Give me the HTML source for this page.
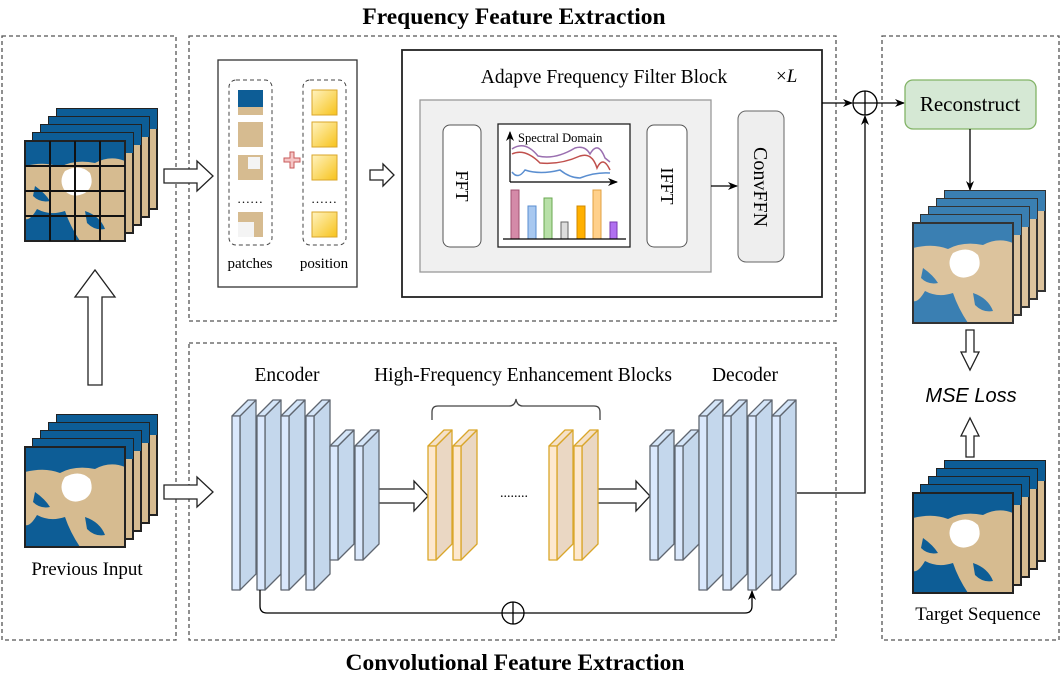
<!DOCTYPE html>
<html><head><meta charset="utf-8"><style>
html,body{margin:0;padding:0;background:#fff}
svg{display:block;font-family:"Liberation Serif",serif}
</style></head><body>
<svg width="1063" height="678" viewBox="0 0 1063 678" xmlns="http://www.w3.org/2000/svg">
<defs>
<g id="mapA">
<rect x="0" y="0" width="100" height="100" fill="#0d5d96"/>
<path d="M0,25 Q20,20 35,26 Q50,18 70,22 Q85,14 100,20 L100,100 L55,100 Q45,85 40,70 Q25,75 12,68 Q5,80 0,78 Z" fill="#d6bb90"/>
<path d="M40,30 Q55,22 65,32 Q70,45 60,52 Q48,58 40,50 Q33,40 40,30 Z" fill="#fff"/>
<path d="M10,45 Q20,52 25,60 Q15,62 8,55Z M60,70 Q75,75 80,88 Q70,90 62,82Z" fill="#0d5d96"/>
</g>
<g id="mapB">
<rect x="0" y="0" width="100" height="100" fill="#3a7fb2"/>
<path d="M0,25 Q20,20 35,26 Q50,18 70,22 Q85,14 100,20 L100,100 L55,100 Q45,85 40,70 Q25,75 12,68 Q5,80 0,78 Z" fill="#dcc39d"/>
<path d="M40,30 Q55,22 65,32 Q70,45 60,52 Q48,58 40,50 Q33,40 40,30 Z" fill="#fff"/>
<path d="M10,45 Q20,52 25,60 Q15,62 8,55Z M60,70 Q75,75 80,88 Q70,90 62,82Z" fill="#3a7fb2"/>
</g>
<g id="stackA">
<rect x="32" y="-32" width="100" height="100" fill="#d6bb90" stroke="#222" stroke-width="2"/><rect x="32" y="-32" width="100" height="20" fill="#0d5d96"/>
<rect x="24" y="-24" width="100" height="100" fill="#d6bb90" stroke="#222" stroke-width="2"/><rect x="24" y="-24" width="100" height="20" fill="#0d5d96"/>
<rect x="16" y="-16" width="100" height="100" fill="#d6bb90" stroke="#222" stroke-width="2"/><rect x="16" y="-16" width="100" height="20" fill="#0d5d96"/>
<rect x="8" y="-8" width="100" height="100" fill="#d6bb90" stroke="#222" stroke-width="2"/><rect x="8" y="-8" width="100" height="20" fill="#0d5d96"/>
<use href="#mapA"/><rect x="0" y="0" width="100" height="100" fill="none" stroke="#222" stroke-width="2"/>
</g>
<g id="stackB">
<rect x="32" y="-32" width="100" height="100" fill="#dcc39d" stroke="#333" stroke-width="2"/><rect x="32" y="-32" width="100" height="20" fill="#3a7fb2"/>
<rect x="24" y="-24" width="100" height="100" fill="#dcc39d" stroke="#333" stroke-width="2"/><rect x="24" y="-24" width="100" height="20" fill="#3a7fb2"/>
<rect x="16" y="-16" width="100" height="100" fill="#dcc39d" stroke="#333" stroke-width="2"/><rect x="16" y="-16" width="100" height="20" fill="#3a7fb2"/>
<rect x="8" y="-8" width="100" height="100" fill="#dcc39d" stroke="#333" stroke-width="2"/><rect x="8" y="-8" width="100" height="20" fill="#3a7fb2"/>
<use href="#mapB"/><rect x="0" y="0" width="100" height="100" fill="none" stroke="#333" stroke-width="2"/>
</g>
<g id="slabBig" stroke="#5f6670" stroke-width="1.3" stroke-linejoin="round">
<polygon points="8,0 24,-16 24,158 8,174" fill="#c4d7ec"/>
<polygon points="0,0 16,-16 24,-16 8,0" fill="#d4e5f8"/>
<rect x="0" y="0" width="8" height="174" fill="#dae8fc"/>
</g>
<g id="slabSm" stroke="#5f6670" stroke-width="1.3" stroke-linejoin="round">
<polygon points="8,0 24,-16 24,98 8,114" fill="#c4d7ec"/>
<polygon points="0,0 16,-16 24,-16 8,0" fill="#d4e5f8"/>
<rect x="0" y="0" width="8" height="114" fill="#dae8fc"/>
</g>
<g id="slabOr" stroke="#d9a62a" stroke-width="1.3" stroke-linejoin="round">
<polygon points="8,0 24,-16 24,98 8,114" fill="#ead7c3"/>
<polygon points="0,0 16,-16 24,-16 8,0" fill="#f5e1c8"/>
<rect x="0" y="0" width="8" height="114" fill="#fde8cf"/>
</g>
<marker id="ah" markerWidth="10" markerHeight="10" refX="9" refY="5" orient="auto" markerUnits="userSpaceOnUse"><path d="M0,1 L10,5 L0,9 L3,5Z" fill="#000"/></marker>
<linearGradient id="yel" x1="0" y1="0" x2="1" y2="1"><stop offset="0" stop-color="#fff3c0"/><stop offset="1" stop-color="#f7c21a"/></linearGradient>
</defs>

<!-- titles -->
<text x="514" y="24" font-size="23.5" font-weight="bold" text-anchor="middle">Frequency Feature Extraction</text>
<text x="515" y="670" font-size="23.5" font-weight="bold" text-anchor="middle">Convolutional Feature Extraction</text>

<!-- dashed regions -->
<g fill="none" stroke="#555" stroke-width="1.3" stroke-dasharray="4,3">
<rect x="2" y="36" width="174" height="604"/>
<rect x="189" y="36" width="647" height="285"/>
<rect x="189" y="343" width="647" height="297"/>
<rect x="882" y="36" width="177" height="604"/>
</g>

<!-- left stacks -->
<use href="#stackA" x="25" y="141"/>
<g stroke="#111" stroke-width="2"><line x1="50" y1="141" x2="50" y2="241"/><line x1="75" y1="141" x2="75" y2="241"/><line x1="100" y1="141" x2="100" y2="241"/><line x1="25" y1="166" x2="125" y2="166"/><line x1="25" y1="191" x2="125" y2="191"/><line x1="25" y1="216" x2="125" y2="216"/></g>
<use href="#stackA" x="25" y="447"/>
<text x="87" y="575" font-size="19" text-anchor="middle">Previous Input</text>

<!-- hollow arrows -->
<g fill="#fff" stroke="#222" stroke-width="1.3">
<polygon points="164,169 197,169 197,161 213,176 197,191 197,183 164,183"/>
<polygon points="164,485 197,485 197,477 213,492 197,507 197,499 164,499"/>
<polygon points="88,385 88,297 75,297 95,270 115,297 102,297 102,385"/>
<polygon points="370,170 383,170 383,164 394,175 383,186 383,180 370,180"/>
<polygon points="372,489 414,489 414,481 428,496 414,511 414,503 372,503"/>
<polygon points="593,489 636,489 636,481 650,496 636,511 636,503 593,503"/>
<polygon points="966,330 966,352 961,352 970,370 979,352 974,352 974,330"/>
<polygon points="966,457 966,436 961,436 970,418 979,436 974,436 974,457"/>
</g>

<!-- patches box -->
<rect x="218" y="60" width="139" height="227" fill="#fff" stroke="#333" stroke-width="1.3"/>
<rect x="229" y="80" width="43" height="165" rx="7" fill="none" stroke="#444" stroke-dasharray="4,3"/>
<rect x="303" y="80" width="43" height="165" rx="7" fill="none" stroke="#444" stroke-dasharray="4,3"/>
<rect x="238" y="90" width="25" height="25" fill="#0d5d96"/><rect x="238" y="107" width="25" height="8" fill="#d6bb90"/>
<rect x="238" y="122" width="25" height="25" fill="#d6bb90"/>
<rect x="238" y="155" width="25" height="25" fill="#d6bb90"/><rect x="248" y="157" width="12" height="12" fill="#f4f4f4"/>
<rect x="238" y="212" width="25" height="25" fill="#d6bb90"/><rect x="238" y="222" width="16" height="15" fill="#f4f4f4"/>
<text x="250" y="203" font-size="13" text-anchor="middle">……</text>
<text x="324" y="203" font-size="13" text-anchor="middle">……</text>
<g fill="url(#yel)" stroke="#d9a62a"><rect x="312" y="90" width="25" height="25"/><rect x="312" y="122" width="25" height="25"/><rect x="312" y="155" width="25" height="25"/><rect x="312" y="212" width="25" height="25"/></g>
<path d="M284,158 h6 v-6 h4 v6 h6 v4 h-6 v6 h-4 v-6 h-6z" fill="#f5c6c6" stroke="#c85a5a"/>
<text x="250" y="268" font-size="15" text-anchor="middle">patches</text>
<text x="324" y="268" font-size="15" text-anchor="middle">position</text>

<!-- filter block -->
<rect x="402" y="50" width="420" height="247" fill="#fff" stroke="#222" stroke-width="1.8"/>
<text x="604" y="83" font-size="19.5" text-anchor="middle">Adapve Frequency Filter Block</text>
<text x="776" y="82" font-size="19">×<tspan font-style="italic">L</tspan></text>
<rect x="420" y="100" width="291" height="172" fill="#f0f0f0" stroke="#999" stroke-width="1.3"/>
<rect x="443" y="125" width="38" height="122" rx="7" fill="#fff" stroke="#555"/>
<text transform="translate(456,186) rotate(90)" font-size="18" text-anchor="middle">FFT</text>
<rect x="647" y="125" width="40" height="122" rx="7" fill="#fff" stroke="#555"/>
<text transform="translate(661,186) rotate(90)" font-size="18" text-anchor="middle">IFFT</text>
<rect x="738" y="111" width="46" height="151" rx="8" fill="#eee" stroke="#666"/>
<text transform="translate(754,187) rotate(90)" font-size="20" text-anchor="middle">ConvFFN</text>
<line x1="711" y1="186" x2="737" y2="186" stroke="#000" stroke-width="1.3" marker-end="url(#ah)"/>
<rect x="498" y="124" width="132" height="123" fill="#fff" stroke="#222" stroke-width="1.3"/>
<line x1="510" y1="182" x2="510" y2="132" stroke="#000" stroke-width="1.2" marker-end="url(#ah)"/>
<line x1="510" y1="182" x2="617" y2="182" stroke="#000" stroke-width="1.2" marker-end="url(#ah)"/>
<text x="518" y="142" font-size="12.5">Spectral Domain</text>
<path d="M512,149 Q525,140 538,156 Q555,160 575,148 Q585,145 590,154 Q598,140 605,158 L610,162" fill="none" stroke="#9a6fb0" stroke-width="1.5"/>
<path d="M512,154 Q525,148 540,163 Q560,165 580,156 Q592,152 597,168 Q603,155 610,170" fill="none" stroke="#c0504d" stroke-width="1.5"/>
<path d="M512,172 Q518,180 525,170 Q540,175 560,170 Q570,178 580,178 Q595,172 610,173" fill="none" stroke="#5a8ed0" stroke-width="1.5"/>
<g stroke-width="1">
<rect x="511" y="190" width="8" height="49" fill="#d48aa8" stroke="#a05070"/>
<rect x="528" y="206" width="8" height="33" fill="#a8c8f0" stroke="#5a8ed0"/>
<rect x="544" y="198" width="8" height="41" fill="#b8e0a8" stroke="#6aa850"/>
<rect x="561" y="222" width="7" height="17" fill="#ddd" stroke="#666"/>
<rect x="577" y="206" width="8" height="33" fill="#ffb000" stroke="#d08800"/>
<rect x="593" y="190" width="8" height="49" fill="#ffd08a" stroke="#e0a040"/>
<rect x="610" y="222" width="7" height="17" fill="#b070f0" stroke="#7a3ab0"/>
</g>
<line x1="503" y1="239" x2="626" y2="239" stroke="#000" stroke-width="1.3"/>

<!-- encoder/decoder -->
<text x="287" y="381" font-size="19.5" text-anchor="middle">Encoder</text>
<text x="523" y="381" font-size="19.5" text-anchor="middle">High-Frequency Enhancement Blocks</text>
<text x="745" y="381" font-size="19.5" text-anchor="middle">Decoder</text>
<path d="M432,420 v-8 q0,-6 6,-6 h71 q6,0 7,-7 q1,7 7,7 h71 q6,0 6,6 v8" fill="none" stroke="#444" stroke-width="1.3"/>
<use href="#slabBig" x="232" y="416"/><use href="#slabBig" x="257" y="416"/><use href="#slabBig" x="281" y="416"/><use href="#slabBig" x="306" y="416"/>
<use href="#slabSm" x="330" y="446"/><use href="#slabSm" x="355" y="446"/>
<use href="#slabOr" x="428" y="446"/><use href="#slabOr" x="453" y="446"/>
<use href="#slabOr" x="549" y="446"/><use href="#slabOr" x="574" y="446"/>
<text x="514" y="497" font-size="14" text-anchor="middle">........</text>
<use href="#slabSm" x="650" y="446"/><use href="#slabSm" x="675" y="446"/>
<use href="#slabBig" x="699" y="416"/><use href="#slabBig" x="723" y="416"/><use href="#slabBig" x="748" y="416"/><use href="#slabBig" x="772" y="416"/>

<!-- skip -->
<path d="M260,590 V606 q0,7 7,7 H745 q7,0 7,-7 V591" fill="none" stroke="#000" stroke-width="1.3" marker-end="url(#ah)"/>
<circle cx="513" cy="613" r="11" fill="#fff" stroke="#000" stroke-width="1.3"/>
<line x1="502" y1="613" x2="524" y2="613" stroke="#000" stroke-width="1.3"/><line x1="513" y1="602" x2="513" y2="624" stroke="#000" stroke-width="1.3"/>

<!-- merge -->
<path d="M797,493 H865 V116" fill="none" stroke="#000" stroke-width="1.3" marker-end="url(#ah)"/>
<line x1="822" y1="103" x2="852" y2="103" stroke="#000" stroke-width="1.3" marker-end="url(#ah)"/>
<circle cx="865" cy="103" r="12" fill="#fff" stroke="#000" stroke-width="1.3"/>
<line x1="853" y1="103" x2="877" y2="103" stroke="#000" stroke-width="1.3"/><line x1="865" y1="91" x2="865" y2="115" stroke="#000" stroke-width="1.3"/>
<line x1="877" y1="103" x2="904" y2="103" stroke="#000" stroke-width="1.3" marker-end="url(#ah)"/>
<rect x="905" y="80" width="131" height="49" rx="8" fill="#d5e8d4" stroke="#82b366" stroke-width="1.3"/>
<text x="970" y="111" font-size="21" text-anchor="middle">Reconstruct</text>
<line x1="970" y1="129" x2="970" y2="190" stroke="#000" stroke-width="1.3" marker-end="url(#ah)"/>
<use href="#stackB" x="913" y="223"/>
<text x="971" y="402" font-size="20" font-style="italic" font-family="Liberation Sans, sans-serif" text-anchor="middle">MSE Loss</text>
<use href="#stackA" x="913" y="493"/>
<text x="978" y="620" font-size="19" text-anchor="middle">Target Sequence</text>
</svg>
</body></html>
